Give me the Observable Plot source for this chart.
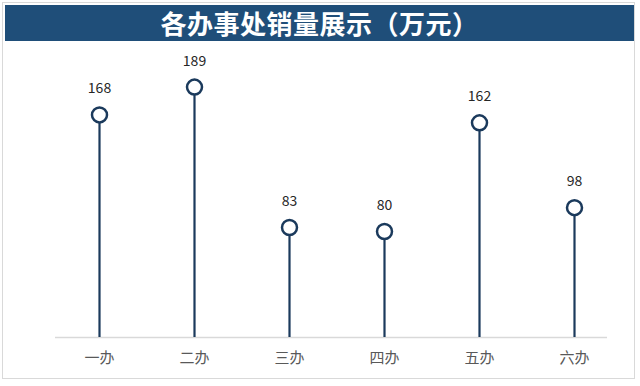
<!DOCTYPE html>
<html>
<head>
<meta charset="utf-8">
<script src="https://cdn.jsdelivr.net/npm/d3@7"></script>
<script src="https://cdn.jsdelivr.net/npm/@observablehq/plot@0.6"></script>
<style>
  html, body { margin: 0; padding: 0; background: #ffffff; }
  #wrap { position: relative; width: 640px; height: 386px; overflow: hidden; background: #fff; font-family: "Noto Sans CJK SC", "Noto Sans", sans-serif; }
  #frame { position: absolute; left: 2px; top: 2px; width: 633px; height: 377px; border: 1px solid #d9d9d9; box-sizing: border-box; }
  #title { position: absolute; left: 5px; top: 5px; width: 629px; height: 36px; background: #1f4e79; color: #fff; font-size: 26px; font-weight: bold; text-align: center; line-height: 36px; letter-spacing: 0.5px; }
  #chart { position: absolute; left: 0; top: 40px; }
</style>
</head>
<body>
<div id="wrap">
  <div id="frame"></div>
  <div id="title">各办事处销量展示（万元）</div>
  <div id="chart"></div>
</div>
<script>
const offices = ["一办", "二办", "三办", "四办", "五办", "六办"];
const sales = [168, 189, 83, 80, 162, 98];

const data = offices.map((o, i) => ({office: o, value: sales[i]}));
const navy = "#1b3a5c";

const chart = Plot.plot({
  width: 640,
  height: 346,
  marginLeft: 55,
  marginRight: 33,
  marginTop: 32,
  marginBottom: 49,
  style: {background: "transparent", fontFamily: "\"Noto Sans CJK SC\", \"Noto Sans\", sans-serif"},
  x: {type: "point", domain: offices, range: [99, 574], padding: 0},
  y: {domain: [0, 200], axis: null},
  marks: [
    Plot.ruleY([0], {stroke: "#d9d9d9", strokeWidth: 1.5}),
    Plot.ruleX(data, {x: "office", y1: 0, y2: "value", stroke: navy, strokeWidth: 2.2}),
    Plot.dot(data, {x: "office", y: "value", r: 7.5, fill: "white", stroke: navy, strokeWidth: 2.5}),
    Plot.text(data, {x: "office", y: "value", text: d => String(d.value), dy: -26, fontSize: 14, fill: "#262626"}),
    Plot.axisX({tickSize: 0, tickPadding: 15, fontSize: 15, color: "#595959", label: null})
  ]
});
document.getElementById("chart").appendChild(chart);
</script>
</body>
</html>
